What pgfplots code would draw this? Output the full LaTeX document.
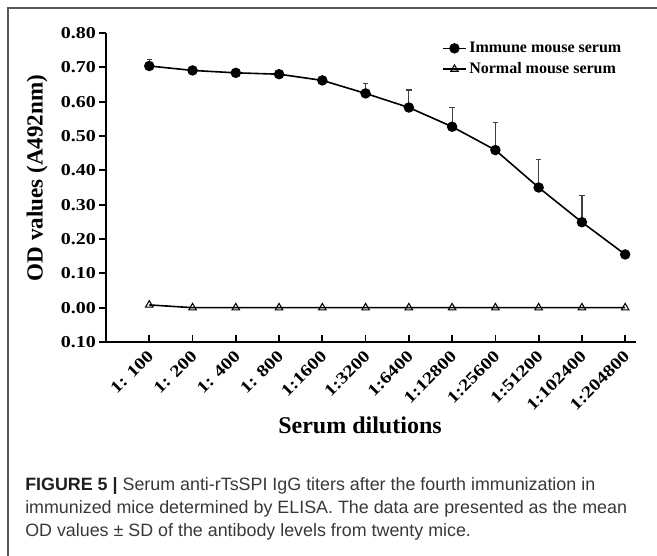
\documentclass[border=0pt]{standalone}
\usepackage{pgfplots}
\pgfplotsset{compat=1.18}
\usepackage{fontspec}
\setmainfont{Liberation Serif}
\newfontfamily\stretchfont[FakeStretch=1.2]{Liberation Serif}
\newfontfamily\capfont{Liberation Sans}
\begin{document}
\begin{tikzpicture}
\path[use as bounding box] (0,0) rectangle (492.75pt,-417pt);
\begin{scope}[x=0.75pt,y=-0.75pt]
\draw[color=black!65, line width=1.3pt] (8,570) -- (8,8) -- (670,8);
\node[rotate=90, font=\bfseries\fontsize{17.3}{20}\selectfont] at (37,178) {OD values (A492nm)};
\node[anchor=base, font=\bfseries\fontsize{18}{21}\selectfont] at (360,433) {Serum dilutions};
\node[anchor=base west, inner sep=0pt, font=\capfont\fontsize{13.4}{17}\selectfont, text=black!78] at (25,490) {{\bfseries\color{black!88}FIGURE 5 |} Serum anti-rTsSPI IgG titers after the fourth immunization in};
\node[anchor=base west, inner sep=0pt, font=\capfont\fontsize{13.4}{17}\selectfont, text=black!78] at (25,513) {immunized mice determined by ELISA. The data are presented as the mean};
\node[anchor=base west, inner sep=0pt, font=\capfont\fontsize{13.4}{17}\selectfont, text=black!78] at (25,536) {OD values ± SD of the antibody levels from twenty mice.};
\end{scope}
\begin{axis}[
  at={(79.5pt,-256.5pt)}, anchor=south west,
  scale only axis, width=397.5pt, height=231.75pt,
  xmin=-1.0, xmax=11.25, ymin=-0.1, ymax=0.8,
  axis x line*=bottom, axis y line*=left,
  axis line style={line width=1.5pt, -},
  every tick/.style={black, line width=1.3pt},
  major tick length=5pt,
  every major y tick/.append style={xshift=-5pt},
  xtick={0,...,11},
  xticklabels={1: 100,1: 200,1: 400,1: 800,1:1600,1:3200,1:6400,1:12800,1:25600,1:51200,1:102400,1:204800},
  ytick={-0.1,0,0.1,0.2,0.3,0.4,0.5,0.6,0.7,0.8},
  yticklabels={0.10,0.00,0.10,0.20,0.30,0.40,0.50,0.60,0.70,0.80},
  ticklabel style={font=\stretchfont\bfseries\fontsize{12.5}{14}\selectfont},
  yticklabel style={xshift=-4pt},
  xticklabel style={xshift=3.6pt, yshift=-5.9pt, rotate=45, anchor=east},
  legend style={at={(0.634,0.98)}, anchor=north west, draw=none, fill=none,
    font=\bfseries\fontsize{12}{14}\selectfont, row sep=2pt, inner sep=0pt},
  legend cell align=left,
  clip=false,
]
\addplot[draw=none, forget plot, mark=none,
  error bars/.cd, y dir=plus, y explicit,
  error bar style={draw=black!75, line width=0.9pt},
  error mark options={draw=black!75, rotate=90, mark size=2pt, line width=0.9pt}]
  table[x=x, y=y, y error=e] {
x y e
0 0.704 0.020
5 0.624 0.029
6 0.583 0.051
7 0.527 0.057
8 0.459 0.080
9 0.350 0.082
10 0.249 0.077
};
\addplot[black, line width=1.2pt, mark=*, mark size=3.3pt] table[x=x, y=y] {
x y
0 0.704
1 0.691
2 0.684
3 0.680
4 0.662
5 0.624
6 0.583
7 0.527
8 0.459
9 0.350
10 0.249
11 0.155
};
\addplot[black, line width=1.2pt, mark=triangle, mark size=3.2pt, mark options={fill=white, line width=0.8pt}] table[x=x, y=y] {
x y
0 0.008
1 0.0
2 0.0
3 0.0
4 0.0
5 0.0
6 0.0
7 0.0
8 0.0
9 0.0
10 0.0
11 0.0
};
\legend{Immune mouse serum, Normal mouse serum}
\end{axis}
\end{tikzpicture}
\end{document}
